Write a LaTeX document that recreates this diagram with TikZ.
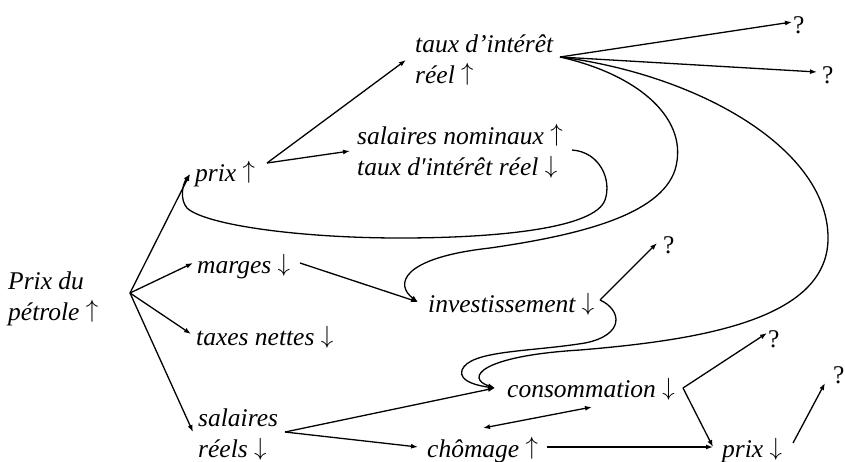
\documentclass[tikz,border=0pt]{standalone}
\usepackage{fontspec}
\setmainfont{Liberation Serif}
\usetikzlibrary{arrows.meta}
\newcommand\arrU{\raisebox{3pt}{$\uparrow$}}
\newcommand\arrD{\raisebox{1.5pt}{$\downarrow$}}
\begin{document}
\begin{tikzpicture}[x=1pt,y=-1pt,
  lbl/.style={font=\fontsize{25.5}{31}\selectfont\itshape, inner sep=0pt, anchor=base west, align=left},
  qm/.style={font=\fontsize{25.5}{31}\selectfont, inner sep=0pt, anchor=base west},
  conn/.style={line width=1.3pt, -{Latex[length=7pt,width=5pt]}},
  dbl/.style={line width=1.3pt, {Latex[length=7pt,width=5pt]}-{Latex[length=7pt,width=5pt]}},
]
\useasboundingbox (0,0) rectangle (845,461);
% nodes (base anchor = baseline of the last line)
\node[lbl] (petrole) at (8,320) {Prix du\\pétrole \arrU};
\node[lbl] (prixA) at (195,181) {prix \arrU};
\node[lbl] (taux) at (415,83) {taux d’intérêt\\réel \arrU};
\node[lbl] (salnom) at (357,175) {salaires nominaux \arrU\\taux d′intérêt réel \arrD};
\node[lbl] (marges) at (197,273) {marges \arrD};
\node[lbl] (taxes) at (196,345) {taxes nettes \arrD};
\node[lbl] (salreel) at (198,457) {salaires\\réels \arrD};
\node[lbl] (invest) at (428,312) {investissement \arrD};
\node[lbl] (conso) at (507,397) {consommation \arrD};
\node[lbl] (chomage) at (427,457) {chômage \arrU};
\node[lbl] (prixB) at (722,457) {prix \arrD};
\node[qm] (q1) at (793,33) {?};
\node[qm] (q2) at (822,83) {?};
\node[qm] (q3) at (663,253) {?};
\node[qm] (q4) at (768,347) {?};
\node[qm] (q5) at (833,383) {?};
% connector end points
\coordinate (pOut) at (130,293);
\coordinate (prixAin) at (190,174);
\coordinate (margesIn) at (193,263);
\coordinate (taxesIn) at (191,334);
\coordinate (salreelIn) at (193,432);
\coordinate (prixAout) at (267,163);
\coordinate (tauxIn) at (406,60);
\coordinate (salnomIn) at (350,151);
\coordinate (tauxOut) at (560,57);
\coordinate (q1in) at (792,22);
\coordinate (q2in) at (817,72);
\coordinate (investIn) at (418,302);
\coordinate (consoIn) at (495,388);
\coordinate (salnomOut) at (572,150);
\coordinate (margesOut) at (300,263);
\coordinate (investOut) at (600,300);
\coordinate (q3in) at (657,243);
\coordinate (salreelOut) at (285,432);
\coordinate (chomageIn) at (418,447);
\coordinate (dblA) at (483,428);
\coordinate (dblB) at (592,407);
\coordinate (chomageOut) at (547,447);
\coordinate (prixBin) at (713,447);
\coordinate (consoOut) at (683,388);
\coordinate (q4in) at (767,333);
\coordinate (prixBout) at (793,443);
\coordinate (q5in) at (825,383);
% connectors
\draw[conn] (pOut) -- (prixAin);
\draw[conn] (pOut) -- (margesIn);
\draw[conn] (pOut) -- (taxesIn);
\draw[conn] (pOut) -- (salreelIn);
\draw[conn] (prixAout) -- (tauxIn);
\draw[conn] (prixAout) -- (salnomIn);
\draw[conn] (tauxOut) -- (q1in);
\draw[conn] (tauxOut) -- (q2in);
\draw[conn] (tauxOut) .. controls (640,75) and (690,120) .. (675,170)
  .. controls (660,215) and (580,235) .. (490,248)
  .. controls (400,258) and (395,285) .. (investIn);
\draw[conn] (tauxOut) .. controls (700,75) and (830,150) .. (828,240)
  .. controls (826,320) and (700,340) .. (580,350)
  .. controls (480,356) and (465,378) .. (consoIn);
\draw[conn] (salnomOut) .. controls (600,152) and (612,180) .. (605,200)
  .. controls (595,228) and (500,238) .. (400,238)
  .. controls (300,238) and (205,225) .. (187,208)
  .. controls (180,200) and (182,185) .. (prixAin);
\draw[conn] (margesOut) -- (investIn);
\draw[conn] (investOut) -- (q3in);
\draw[conn] (investOut) .. controls (622,310) and (625,335) .. (585,343)
  .. controls (530,352) and (470,350) .. (462,370)
  .. controls (458,382) and (480,386) .. (consoIn);
\draw[conn] (salreelOut) -- (consoIn);
\draw[conn] (salreelOut) -- (chomageIn);
\draw[dbl] (dblA) -- (dblB);
\draw[conn] (chomageOut) -- (prixBin);
\draw[conn] (consoOut) -- (q4in);
\draw[conn] (consoOut) -- (prixBin);
\draw[conn] (prixBout) -- (q5in);
\end{tikzpicture}
\end{document}
